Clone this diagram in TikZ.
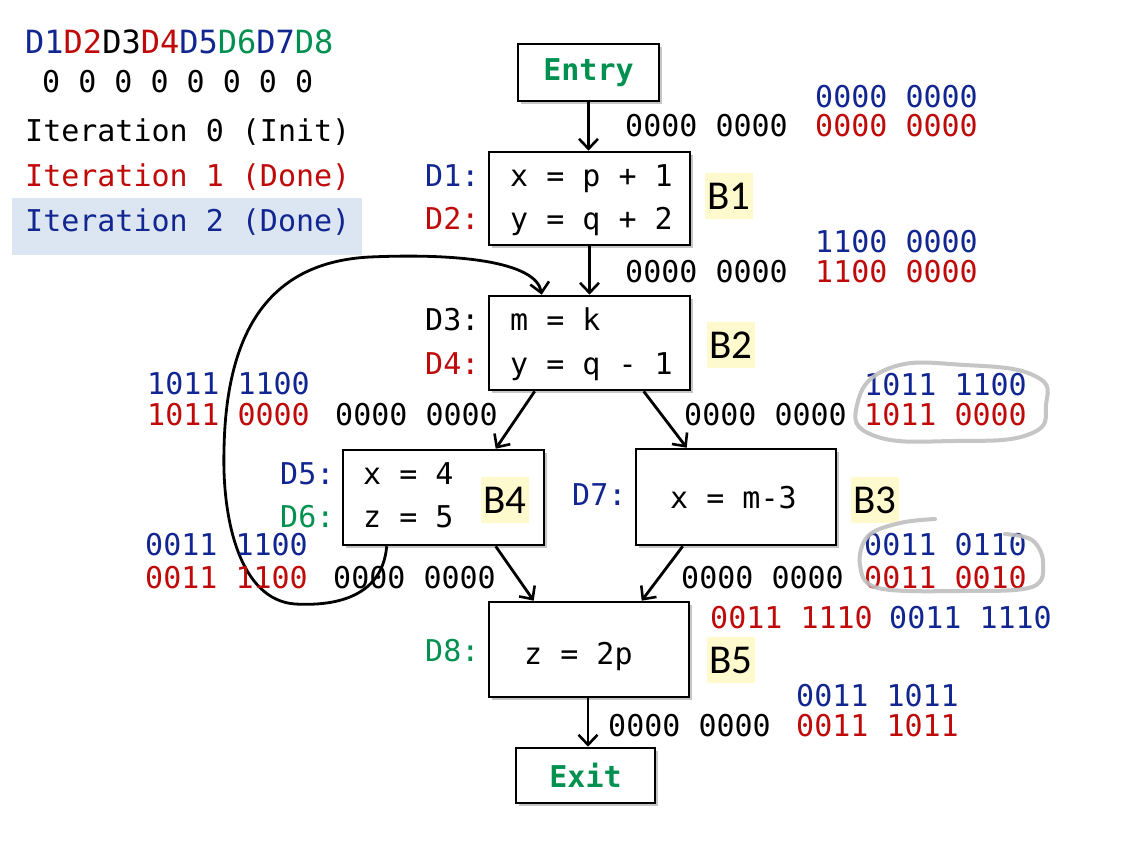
\documentclass[tikz,border=0pt]{standalone}
\usepackage{fontspec}
\setmonofont{DejaVu Sans Mono}
\newfontfamily\labfont{Carlito}
\usetikzlibrary{arrows.meta,shadows}
\definecolor{cblue}{RGB}{18,38,145}
\definecolor{cred}{RGB}{192,10,10}
\definecolor{cgreen}{RGB}{0,145,80}
\definecolor{hlblue}{RGB}{220,230,242}
\definecolor{hlyellow}{RGB}{255,250,205}
\begin{document}
\begin{tikzpicture}[x=1pt,y=-1pt,
 mono/.style={font=\ttfamily\fontsize{30}{36}\selectfont, inner sep=0pt, anchor=base west},
 blk/.style={draw=black, line width=2.6pt, fill=white, drop shadow={shadow xshift=3pt,shadow yshift=-3pt,opacity=0.45}, inner sep=0pt},
 blab/.style={font=\labfont\fontsize{41}{44}\selectfont, fill=hlyellow, inner sep=0pt, minimum width=48pt, minimum height=46pt},
 edge/.style={line width=2.8pt, -{Straight Barb[length=10pt,width=19pt,line width=2.6pt]}},
 scrib/.style={draw=gray!50, line width=4pt, opacity=0.9, line cap=round},
]
\useasboundingbox (0,0) rectangle (1128,850);
\fill[white] (0,0) rectangle (1128,850);

% legend
\fill[hlblue] (12,198) rectangle (362,255);
\node[mono, font=\ttfamily\fontsize{32}{36}\selectfont] (hdr) at (25,54) {\textcolor{cblue}{D1}\textcolor{cred}{D2}D3\textcolor{cred}{D4}\textcolor{cblue}{D5}\textcolor{cgreen}{D6}\textcolor{cblue}{D7}\textcolor{cgreen}{D8}};
\node[mono] (zeros) at (42,93) {0 0 0 0 0 0 0 0};
\node[mono] (it0) at (25,142) {Iteration 0 (Init)};
\node[mono, text=cred] (it1) at (25,187) {Iteration 1 (Done)};
\node[mono, text=cblue] (it2) at (25,232) {Iteration 2 (Done)};

% blocks
\node[blk, minimum width=141pt, minimum height=57pt, font=\ttfamily\bfseries\fontsize{30}{36}\selectfont, text=cgreen] (entry) at (588.5,72.5) {Entry};
\node[blk, minimum width=201pt, minimum height=93pt] (b1) at (589.5,198.5) {};
\node[blk, minimum width=201pt, minimum height=94pt] (b2) at (589.5,343) {};
\node[blk, minimum width=201pt, minimum height=95pt] (b4) at (443.5,497.5) {};
\node[blk, minimum width=200pt, minimum height=96pt] (b3) at (736,497) {};
\node[blk, minimum width=200pt, minimum height=95pt] (b5) at (589,649.5) {};
\node[blk, minimum width=139pt, minimum height=55pt, font=\ttfamily\bfseries\fontsize{30}{36}\selectfont, text=cgreen] (exit) at (585.5,775.5) {Exit};

% block contents
\node[mono] (s1) at (510,187) {x = p + 1};
\node[mono] (s2) at (510,230) {y = q + 2};
\node[mono] (s3) at (510,331) {m = k};
\node[mono] (s4) at (510,375) {y = q - 1};
\node[mono] (s5) at (363,484) {x = 4};
\node[mono] (s6) at (363,527) {z = 5};
\node[mono] (s7) at (670,508) {x = m-3};
\node[mono] (s8) at (524,664) {z = 2p};

% definition labels
\node[mono, text=cblue] (d1) at (425,187) {D1:};
\node[mono, text=cred] (d2) at (425,230) {D2:};
\node[mono] (d3) at (425,331) {D3:};
\node[mono, text=cred] (d4) at (425,375) {D4:};
\node[mono, text=cblue] (d5) at (280,484) {D5:};
\node[mono, text=cgreen] (d6) at (280,527) {D6:};
\node[mono, text=cblue] (d7) at (572,505) {D7:};
\node[mono, text=cgreen] (d8) at (425,661) {D8:};

% block names
\node[blab] (lb1) at (729,196) {B1};
\node[blab] (lb2) at (731,345) {B2};
\node[blab] (lb4) at (505,500) {B4};
\node[blab] (lb3) at (875,500) {B3};
\node[blab] (lb5) at (731,660) {B5};

% edges
\draw[edge] (entry.south) -- (entry.south |- b1.north);
\draw[edge] (b1.south) -- (b1.south |- b2.north);
\draw[edge] ([xshift=47pt]b2.south west) -- ([xshift=154pt]b4.north west);
\draw[edge] ([xshift=156pt]b2.south west) -- ([xshift=52pt]b3.north west);
\draw[edge] ([xshift=154pt]b4.south west) -- ([xshift=46pt]b5.north west);
\draw[edge] ([xshift=48pt]b3.south west) -- ([xshift=154pt]b5.north west);
\draw[edge] ([xshift=-1pt]b5.south) -- ([xshift=-1pt]b5.south |- exit.north);
\draw[edge] ([xshift=45pt]b4.south west) .. controls (382,600) and (330,606) .. (295,604)
  .. controls (240,600) and (222,520) .. (224,450)
  .. controls (226,330) and (270,262) .. (370,257)
  .. controls (460,253) and (536,262) .. ([xshift=54pt]b2.north west);

% bit vectors
\node[mono, text=cblue] (v1) at (815,108) {0000 0000};
\node[mono] (v2) at (625,137) {0000 0000};
\node[mono, text=cred] (v3) at (815,137) {0000 0000};
\node[mono, text=cblue] (v4) at (815,253) {1100 0000};
\node[mono] (v5) at (625,283) {0000 0000};
\node[mono, text=cred] (v6) at (815,283) {1100 0000};
\node[mono, text=cblue] (v7) at (147,395) {1011 1100};
\node[mono, text=cred] (v8) at (147,426) {1011 0000};
\node[mono] (v9) at (335,426) {0000 0000};
\node[mono] (v10) at (684,426) {0000 0000};
\node[mono, text=cblue] (v11) at (864,396) {1011 1100};
\node[mono, text=cred] (v12) at (864,426) {1011 0000};
\node[mono, text=cblue] (v13) at (145,555) {0011 1100};
\node[mono, text=cred] (v14) at (145,588) {0011 1100};
\node[mono] (v15) at (333,588) {0000 0000};
\node[mono] (v16) at (681,588) {0000 0000};
\node[mono, text=cblue] (v17) at (864,555) {0011 0110};
\node[mono, text=cred] (v18) at (864,588) {0011 0010};
\node[mono, text=cred] (v19) at (710,628) {0011 1110};
\node[mono, text=cblue] (v20) at (889,628) {0011 1110};
\node[mono, text=cblue] (v21) at (796,706) {0011 1011};
\node[mono] (v22) at (608,736) {0000 0000};
\node[mono, text=cred] (v23) at (796,736) {0011 1011};

% hand-drawn marks
\draw[scrib] plot[smooth cycle, tension=0.8] coordinates {(890,368) (965,365) (1035,376) (1046,405) (1030,434) (955,441) (875,436) (857,405)};
\draw[scrib] plot[smooth, tension=0.6] coordinates {(935,519) (900,523) (868,536) (860,565) (878,588) (960,591) (1032,587) (1043,562) (1032,540) (1005,534)};
\end{tikzpicture}
\end{document}
